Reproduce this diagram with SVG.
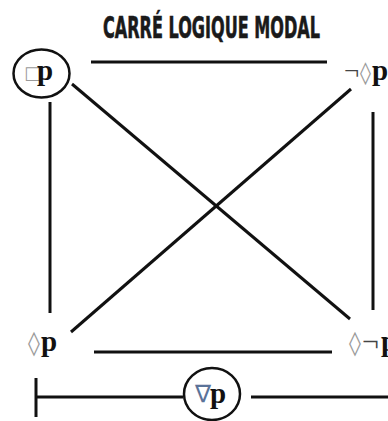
<svg xmlns="http://www.w3.org/2000/svg" width="388" height="421" viewBox="0 0 388 421">
<style>
.title{font-family:"DejaVu Sans Condensed","DejaVu Sans",sans-serif;font-stretch:condensed;font-weight:bold;font-size:30px;fill:#1a1a1a;stroke:#1a1a1a;stroke-width:0.6}
.lbl{font-family:"Liberation Serif","DejaVu Serif",serif;font-weight:bold;font-size:29px;fill:#111}
.sym{font-family:"DejaVu Sans","Liberation Serif",sans-serif;font-weight:normal;fill:#9a9a9a}
.neg{font-family:"Liberation Serif",serif;font-weight:normal;fill:#444}
.nab{font-family:"DejaVu Sans",sans-serif;font-weight:normal;fill:#5b7399}
.ring{fill:none;stroke:#111;stroke-width:2.5}
.ln{stroke:#111;stroke-width:3;fill:none;stroke-linecap:butt}
</style>
<rect width="388" height="421" fill="#fff"/>
<g id="title">
<text class="title" x="103" y="38" textLength="217" lengthAdjust="spacingAndGlyphs">CARRÉ LOGIQUE MODAL</text>
</g>
<g id="connectors">
<line class="ln" x1="91" y1="62" x2="327" y2="62"/>
<line class="ln" x1="94" y1="352" x2="332" y2="352"/>
<line class="ln" x1="50" y1="102" x2="50" y2="313"/>
<line class="ln" x1="373" y1="112" x2="373" y2="310"/>
<line class="ln" x1="72" y1="84" x2="350" y2="319"/>
<line class="ln" x1="351" y1="89" x2="71" y2="332"/>
<line class="ln" x1="36" y1="397" x2="183" y2="397"/>
<line class="ln" x1="36" y1="378" x2="36" y2="417"/>
<line class="ln" x1="251" y1="397" x2="390" y2="397"/>
</g>
<g id="node-necessary-p">
<ellipse class="ring" cx="41.5" cy="73.5" rx="28" ry="24"/>
<text class="lbl" y="80"><tspan class="sym" x="24" font-size="18" dy="-1">□</tspan><tspan x="37" dy="1">p</tspan></text>
</g>
<g id="node-not-possible-p">
<text class="lbl" y="80"><tspan class="neg" x="344" font-size="27">¬</tspan><tspan class="sym" x="360" font-size="22">◊</tspan><tspan x="372">p</tspan></text>
</g>
<g id="node-possible-p">
<text class="lbl" y="351"><tspan class="sym" x="28" font-size="24">◊</tspan><tspan x="41">p</tspan></text>
</g>
<g id="node-possible-not-p">
<text class="lbl" y="351"><tspan class="sym" x="349" font-size="24">◊</tspan><tspan class="neg" x="362" font-size="30">¬</tspan><tspan x="381">p</tspan></text>
</g>
<g id="node-contingent-p">
<ellipse class="ring" cx="212" cy="394" rx="28" ry="26"/>
<text class="lbl" y="403" font-size="31"><tspan class="nab" x="195" font-size="24" dy="-1">∇</tspan><tspan x="210" dy="1">p</tspan></text>
</g>
</svg>
